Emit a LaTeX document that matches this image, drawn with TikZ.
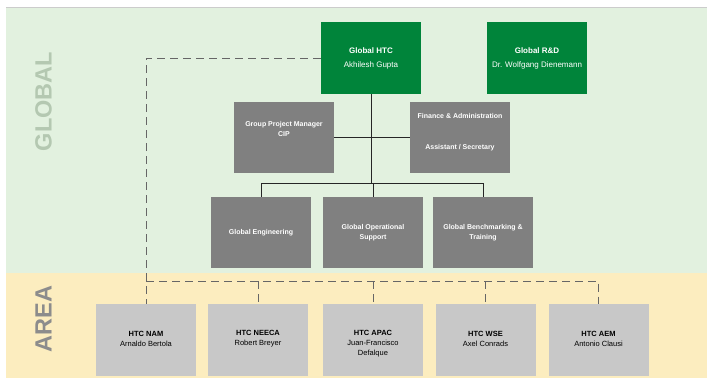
\documentclass[tikz,border=0pt]{standalone}
\usepackage{fontspec}
\setmainfont{Liberation Sans}
\definecolor{globalbg}{HTML}{E2F1DF}
\definecolor{areabg}{HTML}{FCEDBF}
\definecolor{leadgreen}{HTML}{00843A}
\definecolor{unitgray}{HTML}{808080}
\definecolor{areagray}{HTML}{C8C8C8}
\definecolor{globaltxt}{HTML}{B4C8B1}
\definecolor{areatxt}{HTML}{8C8C8C}
\tikzset{
  lead/.style={fill=leadgreen, text=white, minimum width=100pt, minimum height=72pt,
    inner sep=0pt, align=center, font=\fontsize{8}{14}\selectfont},
  unit/.style={fill=unitgray, text=white, minimum width=100pt, minimum height=71pt,
    inner sep=0pt, align=center, font=\fontsize{7}{10}\selectfont\bfseries},
  htc/.style={fill=areagray, text=black, minimum width=100pt, minimum height=72pt,
    inner sep=0pt, align=center, font=\fontsize{7.5}{10}\selectfont},
  band/.style={rotate=90, font=\fontsize{23.5}{28}\selectfont\bfseries},
  solidline/.style={draw=black!85, line width=0.8pt},
  dashline/.style={draw=black!60, line width=0.8pt, dash pattern=on 8pt off 5pt}
}
\begin{document}
\begin{tikzpicture}[x=1pt, y=-1pt]
  \useasboundingbox (0,0) rectangle (707,378);
  \fill[globalbg] (6,7) rectangle (707,273);
  \fill[areabg] (6,273) rectangle (707,378);
  \draw[black!20] (6,7) -- (707,7);

  \node[band, text=globaltxt] (global) at (43.5,101.5) {GLOBAL};
  \node[band, text=areatxt] (area) at (43.5,319) {AREA};

  \node[lead] (HTC) at (371,58) {\textbf{Global HTC}\\Akhilesh Gupta};
  \node[lead] (RD) at (537,58) {\textbf{Global R\&D}\\Dr. Wolfgang Dienemann};

  \node[unit, label={[unit, fill=none, minimum size=0pt, yshift=9pt]center:Group Project Manager\\CIP}] (GPM) at (284,137.5) {};
  \node[unit, label={[unit, fill=none, minimum size=0pt, yshift=5pt]center:Finance \& Administration\\[21pt]Assistant / Secretary}] (FIN) at (460,137.5) {};

  \node[unit] (ENG) at (261,232.5) {Global Engineering};
  \node[unit] (OPS) at (373,232.5) {Global Operational\\Support};
  \node[unit] (BEN) at (483,232.5) {Global Benchmarking \&\\Training};

  \node[htc, label={[htc, fill=none, minimum size=0pt, yshift=1pt]center:\textbf{HTC NAM}\\Arnaldo Bertola}] (NAM) at (146,340) {};
  \node[htc, label={[htc, fill=none, minimum size=0pt, yshift=1pt]center:\textbf{HTC NEECA}\\Robert Breyer}] (NEECA) at (258,340) {};
  \node[htc, label={[htc, fill=none, minimum size=0pt, yshift=-4pt]center:\textbf{HTC APAC}\\Juan-Francisco\\Defalque}] (APAC) at (373,340) {};
  \node[htc, label={[htc, fill=none, minimum size=0pt, yshift=1pt]center:\textbf{HTC WSE}\\Axel Conrads}] (WSE) at (485.5,340) {};
  \node[htc, label={[htc, fill=none, minimum size=0pt, yshift=1pt]center:\textbf{HTC AEM}\\Antonio Clausi}] (AEM) at (598.5,340) {};

  \coordinate (bus) at (371,183);
  \coordinate (areabus) at (146,281);

  \draw[solidline] (HTC.south) -- (bus);
  \draw[solidline] (GPM.east) -- (FIN.west);
  \draw[solidline] (ENG.north) -- (ENG.north |- bus) -- (BEN.north |- bus) -- (BEN.north);
  \draw[solidline] (OPS.north) -- (OPS.north |- bus);

  \draw[dashline] (HTC.west) -- (HTC.west -| NAM.north) -- (NAM.north);
  \draw[dashline] (areabus) -- (AEM.north |- areabus) -- (AEM.north);
  \foreach \n in {NEECA, APAC, WSE}
    \draw[dashline] (\n.north |- areabus) -- (\n.north);
\end{tikzpicture}
\end{document}
